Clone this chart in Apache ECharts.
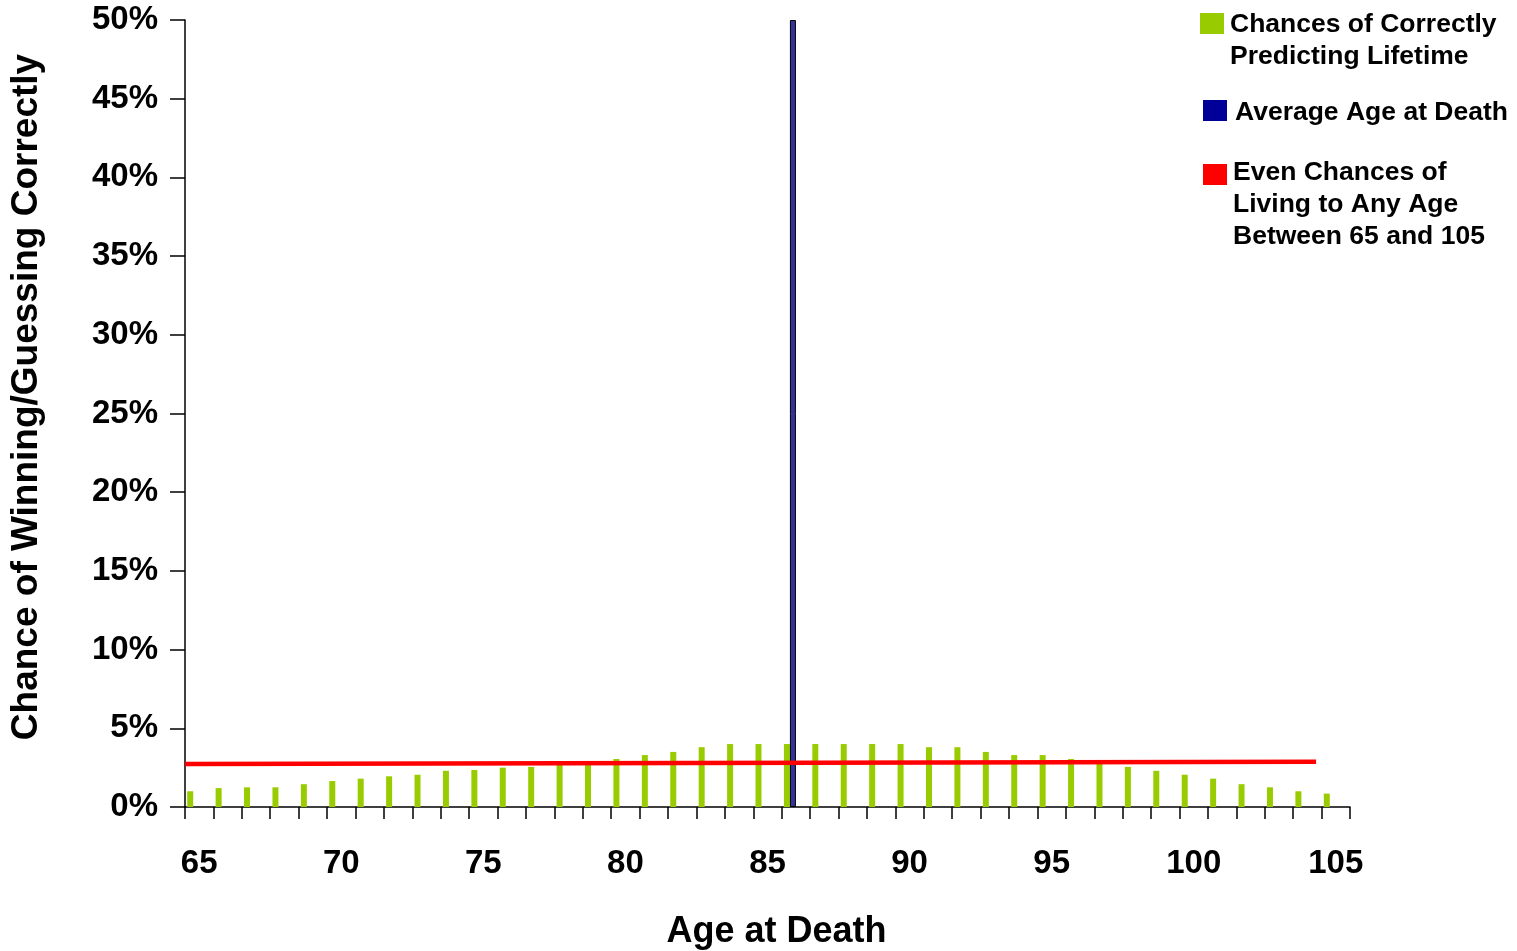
<!DOCTYPE html>
<html>
<head>
<meta charset="utf-8">
<title>Chance of Winning/Guessing Correctly</title>
<script src="https://cdn.jsdelivr.net/npm/echarts@6/dist/echarts.min.js"></script>
<style>
    html, body { margin: 0; padding: 0; background: #fff; }
    #chart { width: 1517px; height: 951px; }
</style>
</head>
<body>
<div id="chart"></div>
<script>
// age categories on the x axis
var ages = ['65', '66', '67', '68', '69', '70', '71', '72', '73', '74', '75', '76', '77', '78', '79',
            '80', '81', '82', '83', '84', '85', '86', '87', '88', '89', '90', '91', '92', '93', '94',
            '95', '96', '97', '98', '99', '100', '101', '102', '103', '104', '105'];

// chances of correctly predicting lifetime (%)
var chances = [1.0, 1.2, 1.25, 1.25, 1.45, 1.65, 1.8, 1.95, 2.05, 2.3, 2.35, 2.5, 2.55, 2.7, 2.8,
               3.05, 3.3, 3.5, 3.8, 4.0, 4.0, 4.0, 4.0, 4.0, 4.0, 4.0, 3.8, 3.8, 3.5, 3.3,
               3.3, 3.05, 2.8, 2.55, 2.3, 2.05, 1.8, 1.45, 1.25, 1.0, 0.85];

// average age at death, drawn as a full height bar
var averageAge = '86';
var averageValue = 50;

// even chances line (start / end age, %)
var evenAges = [65, 105];
var evenValues = [2.73, 2.88];

var names = {
    green: 'Chances of Correctly\nPredicting Lifetime',
    blue: 'Average Age at Death',
    red: 'Even Chances of\nLiving to Any Age\nBetween 65 and 105'
};
var colors = { green: '#99CC00', blue: '#000099', red: '#FF0000' };

var FONT = '"Liberation Sans", Arial, sans-serif';

var avgData = ages.map(function(a) { return a === averageAge ? averageValue : '-'; });
var evenData = evenAges.map(function(a, i) { return [a, evenValues[i]]; });
var empty = ages.map(function() { return '-'; });

/*
 * legend entry: square + multi-line text, the square beside the first line
 */
function legendItem(key, x, y, textX, textY) {
    return {
        type: 'group',
        children: [
            { type: 'rect', shape: { x: x, y: y, width: 24, height: 21 }, style: { fill: colors[key] } },
            {
                type: 'text',
                x: textX, y: textY,
                style: {
                    text: names[key], fill: '#000',
                    font: 'bold 26.5px ' + FONT,
                    lineHeight: 32, verticalAlign: 'top', align: 'left'
                }
            }
        ]
    };
}

var chartObj = echarts.init(document.getElementById('chart'));
var option = {
    animation: false,
    backgroundColor: '#fff',
    grid: { left: 185, right: 167, top: 20, bottom: 144, containLabel: false, outerBoundsMode: 'none' },
    graphic: [
        legendItem('green', 1200, 13, 1230, 9),
        legendItem('blue', 1203, 100, 1235, 97),
        legendItem('red', 1203, 164, 1233, 157)
    ],
    xAxis: [
        {
            type: 'category',
            data: ages,
            name: 'Age at Death',
            nameLocation: 'middle',
            nameGap: 107,
            nameTextStyle: {
                fontFamily: FONT, fontWeight: 'bold', fontSize: 36, color: '#000',
                padding: [0, 0, 0, 18]
            },
            axisLine: { lineStyle: { color: '#000', width: 1.5 } },
            axisTick: { show: true, interval: 0, length: 12, lineStyle: { color: '#000', width: 1.5 } },
            axisLabel: {
                interval: 4, margin: 40,
                fontFamily: FONT, fontWeight: 'bold', fontSize: 33, color: '#000'
            },
            splitLine: { show: false }
        },
        {
            // hidden value axis for the even chances line
            type: 'value',
            min: 65,
            max: 106.2,
            show: false
        }
    ],
    yAxis: {
        type: 'value',
        min: 0,
        max: 50,
        interval: 5,
        name: 'Chance of Winning/Guessing Correctly',
        nameLocation: 'middle',
        nameRotate: 90,
        nameGap: 140,
        nameTextStyle: {
            fontFamily: FONT, fontWeight: 'bold', fontSize: 37, color: '#000',
            padding: [0, 0, 0, 33]
        },
        axisLine: { show: true, lineStyle: { color: '#000', width: 1.5 } },
        axisTick: { show: true, length: 15, lineStyle: { color: '#000', width: 1.5 } },
        axisLabel: {
            formatter: '{value}%', margin: 27,
            fontFamily: FONT, fontWeight: 'bold', fontSize: 33, color: '#000',
            padding: [3, 0, 0, 0]
        },
        splitLine: { show: false }
    },
    series: [
        {
            name: names.green,
            type: 'bar',
            barWidth: 6,
            barGap: '0%',
            itemStyle: { color: colors.green },
            data: chances
        },
        {
            name: names.blue,
            type: 'bar',
            barWidth: 6,
            barGap: '0%',
            itemStyle: { color: '#333399', borderColor: '#000', borderWidth: 1 },
            data: avgData
        },
        // two empty slots so the pair sits left of the band centre, as in the original
        { name: 'slot3', type: 'bar', barWidth: 6, barGap: '0%', data: empty },
        { name: 'slot4', type: 'bar', barWidth: 6, barGap: '0%', data: empty },
        {
            name: names.red,
            type: 'line',
            xAxisIndex: 1,
            symbol: 'none',
            lineStyle: { color: colors.red, width: 4.5 },
            itemStyle: { color: colors.red },
            data: evenData,
            z: 5
        }
    ]
};
chartObj.setOption(option);
</script>
</body>
</html>
